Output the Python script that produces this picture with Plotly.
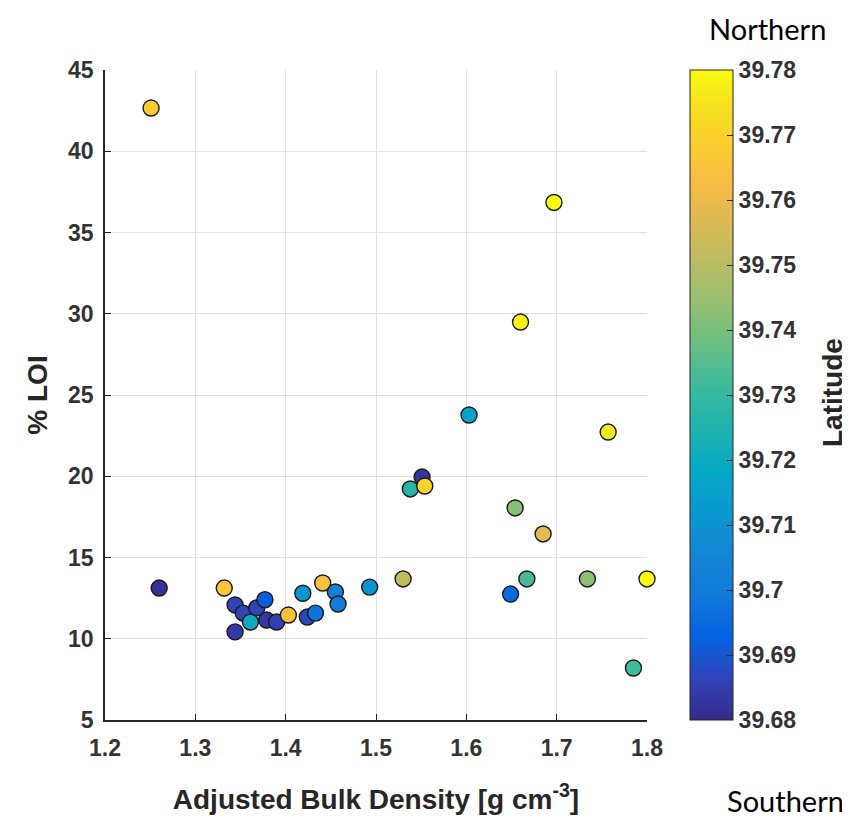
import plotly.graph_objects as go

# ---- data ----
bulk_density = [1.251, 1.697, 1.660, 1.603, 1.757, 1.551, 1.538, 1.554, 1.654, 1.685,
                1.530, 1.667, 1.734, 1.800, 1.649, 1.785, 1.260, 1.332, 1.344, 1.353,
                1.361, 1.368, 1.377, 1.379, 1.390, 1.344, 1.403, 1.419, 1.424, 1.433,
                1.441, 1.455, 1.458, 1.493]
loi = [42.66, 36.85, 29.49, 23.77, 22.72, 19.95, 19.22, 19.40, 18.05, 16.45,
       13.68, 13.68, 13.68, 13.68, 12.75, 8.20, 13.12, 13.12, 12.08, 11.58,
       11.03, 11.90, 12.40, 11.15, 11.03, 10.42, 11.46, 12.80, 11.34, 11.58,
       13.43, 12.88, 12.14, 13.18]
latitude = [39.768, 39.780, 39.778, 39.717, 39.776, 39.683, 39.727, 39.770, 39.742, 39.758,
            39.752, 39.733, 39.743, 39.780, 39.695, 39.732, 39.682, 39.766, 39.686, 39.686,
            39.720, 39.686, 39.692, 39.684, 39.685, 39.684, 39.765, 39.710, 39.687, 39.697,
            39.765, 39.703, 39.700, 39.710]

x_ticks = [1.2, 1.3, 1.4, 1.5, 1.6, 1.7, 1.8]
x_ticklabels = ["1.2", "1.3", "1.4", "1.5", "1.6", "1.7", "1.8"]
y_ticks = [5, 10, 15, 20, 25, 30, 35, 40, 45]
cb_ticks = [39.68, 39.69, 39.70, 39.71, 39.72, 39.73, 39.74, 39.75, 39.76, 39.77, 39.78]
cb_ticklabels = ["39.68", "39.69", "39.7", "39.71", "39.72", "39.73", "39.74",
                 "39.75", "39.76", "39.77", "39.78"]

# MATLAB parula colormap (sampled from the 64-entry table)
parula_idx = [0, 4, 8, 12, 16, 20, 24, 28, 32, 36, 40, 44, 48, 52, 56, 60, 63]
parula_rgb = [(53, 42, 135), (50, 67, 186), (3, 99, 225), (16, 121, 218), (20, 133, 212),
              (9, 152, 209), (6, 167, 198), (29, 179, 175), (56, 185, 158), (101, 190, 134),
              (146, 191, 115), (183, 189, 100), (217, 186, 86), (248, 187, 68),
              (252, 206, 46), (245, 228, 29), (249, 251, 14)]
parula = [(i / 63, "rgb(%d,%d,%d)" % c) for i, c in zip(parula_idx, parula_rgb)]

axis_color = "#262626"
tick_font = dict(family="Liberation Sans, Arial, sans-serif", size=23, color="#333333", weight="bold")
title_font = dict(family="Liberation Sans, Arial, sans-serif", size=28, color="#262626", weight="bold")

fig = go.Figure()
fig.add_trace(go.Scatter(
    x=bulk_density, y=loi, mode="markers", cliponaxis=False,
    marker=dict(
        size=16, color=latitude, colorscale=parula, cmin=39.68, cmax=39.78,
        line=dict(color="#1a1a1a", width=1.4),
        colorbar=dict(
            x=(690 - 105) / 542, xanchor="left", xpad=0,
            y=0.5, yanchor="middle", len=1.0, lenmode="fraction", ypad=0,
            thickness=43, thicknessmode="pixels",
            outlinewidth=1, outlinecolor=axis_color,
            tickvals=cb_ticks, ticktext=cb_ticklabels,
            ticks="inside", ticklen=6, tickcolor=axis_color,
            tickfont=tick_font,
        ),
    ),
    showlegend=False,
))

fig.update_xaxes(
    range=[1.2, 1.8], tickvals=x_ticks, ticktext=x_ticklabels,
    showgrid=True, gridcolor="#e0e0e0", gridwidth=1,
    showline=True, linecolor=axis_color, linewidth=1.5, mirror=False,
    ticks="inside", ticklen=6, tickcolor=axis_color, tickwidth=1.2,
    tickfont=tick_font, ticklabelstandoff=7, zeroline=False,
    title=dict(text="Adjusted Bulk Density [g cm<sup>-3</sup>]", font=title_font, standoff=29),
)
fig.update_yaxes(
    range=[5, 45], tickvals=y_ticks,
    showgrid=True, gridcolor="#e0e0e0", gridwidth=1,
    showline=True, linecolor=axis_color, linewidth=1.5, mirror=False,
    ticks="inside", ticklen=6, tickcolor=axis_color, tickwidth=1.2,
    tickfont=tick_font, ticklabelstandoff=5, zeroline=False,
    title=dict(text="% LOI", font=title_font, standoff=12),
)

side_font = dict(family="Lato, Carlito, sans-serif", size=29, color="#000000")
fig.add_annotation(x=(767 - 105) / 542, y=(720 - 28) / 650, xref="paper", yref="paper",
                   text="Northern", showarrow=False, font=side_font,
                   xanchor="center", yanchor="middle")
fig.add_annotation(x=(785 - 105) / 542, y=(720 - 800) / 650, xref="paper", yref="paper",
                   text="Southern", showarrow=False, font=side_font,
                   xanchor="center", yanchor="middle")
fig.add_annotation(x=(832 - 105) / 542, y=(720 - 393) / 650, xref="paper", yref="paper",
                   text="Latitude", showarrow=False, textangle=-90, font=title_font,
                   xanchor="center", yanchor="middle")

# the page adds an 8 px body margin, so the figure is 8 px smaller each way
fig.update_layout(
    width=842, height=811,
    margin=dict(l=97, r=203, t=62, b=99, autoexpand=False),
    paper_bgcolor="white", plot_bgcolor="white",
)

fig.write_html("out.html")
